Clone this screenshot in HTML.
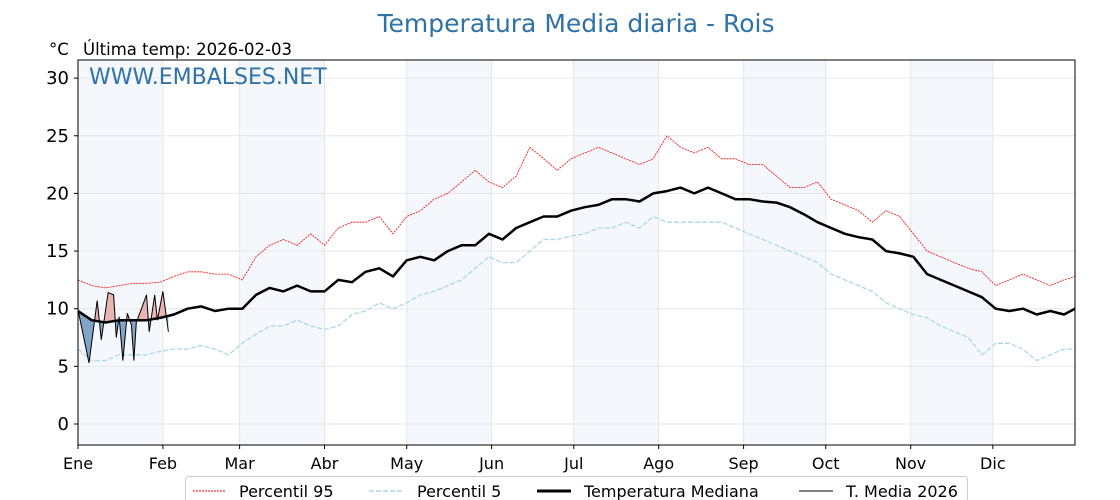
<!DOCTYPE html>
<html><head><meta charset="utf-8"><style>
body{margin:0;background:#fff;}
svg{display:block;font-family:"DejaVu Sans","Liberation Sans",sans-serif;}
</style></head><body>
<svg id="chart" width="1120" height="500">
<text x="576" y="32" text-anchor="middle" font-size="25" fill="#2f72a8">Temperatura Media diaria - Rois</text>
<text x="49" y="55" font-size="16.5" fill="#000">°C</text>
<text x="83" y="55" font-size="16.5" fill="#000">Última temp: 2026-02-03</text>
<g id="plot"></g>
<text x="89" y="84" font-size="22" fill="#2f72a8">WWW.EMBALSES.NET</text>
<g>
<rect x="185.5" y="476.5" width="782" height="30" rx="3" fill="#fff" stroke="#ccc"/>
<line x1="193" y1="491" x2="225" y2="491" stroke="red" stroke-width="1" stroke-dasharray="2,1"/>
<text x="239" y="497" font-size="16">Percentil 95</text>
<line x1="369" y1="491" x2="403" y2="491" stroke="#a8d8e8" stroke-width="1.5" stroke-dasharray="5,2"/>
<text x="417" y="497" font-size="16">Percentil 5</text>
<line x1="537" y1="491" x2="571" y2="491" stroke="#000" stroke-width="3"/>
<text x="584" y="497" font-size="16">Temperatura Mediana</text>
<line x1="799" y1="491" x2="833" y2="491" stroke="#000" stroke-width="1"/>
<text x="846" y="497" font-size="16">T. Media 2026</text>
</g>
</svg>
<script>
const dayIdx=[0,5,10,15,20,25,30,35,40,45,50,55,60,65,70,75,80,85,90,95,100,105,110,115,120,125,130,135,140,145,150,155,160,165,170,175,180,185,190,195,200,205,210,215,220,225,230,235,240,245,250,255,260,265,270,275,280,285,290,295,300,305,310,315,320,325,330,335,340,345,350,355,360,364];
const median=[9.8,9,8.8,9,9,9,9.2,9.5,10,10.2,9.8,10,10,11.2,11.8,11.5,12,11.5,11.5,12.5,12.3,13.2,13.5,12.8,14.2,14.5,14.2,15,15.5,15.5,16.5,16,17,17.5,18,18,18.5,18.8,19,19.5,19.5,19.3,20,20.2,20.5,20,20.5,20,19.5,19.5,19.3,19.2,18.8,18.2,17.5,17,16.5,16.2,16,15,14.8,14.5,13,12.5,12,11.5,11,10,9.8,10,9.5,9.8,9.5,10];
const p95=[12.5,12,11.8,12,12.2,12.2,12.3,12.8,13.2,13.2,13,13,12.5,14.5,15.5,16,15.5,16.5,15.5,17,17.5,17.5,18,16.5,18,18.5,19.5,20,21,22,21,20.5,21.5,24,23,22,23,23.5,24,23.5,23,22.5,23,25,24,23.5,24,23,23,22.5,22.5,21.5,20.5,20.5,21,19.5,19,18.5,17.5,18.5,18,16.5,15,14.5,14,13.5,13.2,12,12.5,13,12.5,12,12.5,12.8];
const p5=[6.5,5.5,5.5,6,6,6,6.3,6.5,6.5,6.8,6.5,6,7,7.8,8.5,8.5,9,8.5,8.2,8.5,9.5,9.8,10.5,10,10.5,11.2,11.5,12,12.5,13.5,14.5,14,14,15,16,16,16.3,16.5,17,17,17.5,17,18,17.5,17.5,17.5,17.5,17.5,17,16.5,16,15.5,15,14.5,14,13,12.5,12,11.5,10.5,10,9.5,9.2,8.5,8,7.5,6,7,7,6.5,5.5,6,6.5,6.5];
const days2026=[0,4,7,8.5,11,13,14,15,16.4,18,19.5,20.4,21.3,23,25,26,28,29,31,33];
const temp2026=[9.9,5.3,10.7,7.3,11.4,11.2,7.5,9.3,5.5,9.6,8.6,5.5,8.8,9.9,11.2,8.0,11.2,9.0,11.5,8.0];
const yTicks=[0,5,10,15,20,25,30];
const months=["Ene","Feb","Mar","Abr","May","Jun","Jul","Ago","Sep","Oct","Nov","Dic"];
const monthStart=[0,31,59,90,120,151,181,212,243,273,304,334];

const X0=78,X1=1075,Y0=60,Y1=445;
const xs=d=>X0+d*(997/364);
const ys=v=>424-v*11.53;
const NS="http://www.w3.org/2000/svg";
const plot=document.getElementById('plot');
function mk(tag,attrs,parent){const e=document.createElementNS(NS,tag);for(const k in attrs)e.setAttribute(k,attrs[k]);(parent||plot).appendChild(e);return e;}
const defs=mk('defs',{});
const cp=mk('clipPath',{id:'pc'},defs);mk('rect',{x:X0,y:Y0,width:X1-X0,height:Y1-Y0},cp);
monthStart.forEach((m,i)=>{
  if(i%2===0){const end=i+1<12?monthStart[i+1]:364;
    const r=mk('rect',{x:xs(m),y:Y0,width:xs(end)-xs(m),height:Y1-Y0,fill:'#f4f8fc'});
    
    }
});
yTicks.forEach(t=>{const l=mk('line',{x1:X0,x2:X1,y1:ys(t),y2:ys(t),stroke:'#e6e6e6','stroke-width':1});
  
  
  mk('line',{x1:X0-4,x2:X0,y1:ys(t),y2:ys(t),stroke:'#000'});
  const tx=mk('text',{x:X0-9,y:ys(t)+6,'text-anchor':'end','font-size':18});tx.textContent=t;
  
  });
monthStart.forEach((m,i)=>{const l=mk('line',{x1:xs(m),x2:xs(m),y1:Y0,y2:Y1,stroke:'#e6e6e6'});
  
  
  mk('line',{x1:xs(m),x2:xs(m),y1:Y1,y2:Y1+4,stroke:'#000'});
  const tx=mk('text',{x:xs(m),y:Y1+24,'text-anchor':'middle','font-size':16});tx.textContent=months[i];
  
  });
const pts=(d,v)=>d.map((x,i)=>xs(x).toFixed(1)+','+ys(v[i]).toFixed(1)).join(' ');
const g=mk('g',{'clip-path':'url(#pc)'});
function medAt(d){for(let i=0;i<dayIdx.length-1;i++){if(d<=dayIdx[i+1]){const t=(d-dayIdx[i])/(dayIdx[i+1]-dayIdx[i]);return median[i]+t*(median[i+1]-median[i]);}}return median[median.length-1];}
const medPts=days2026.map(d=>xs(d).toFixed(1)+','+ys(medAt(d)).toFixed(1));
const above=mk('clipPath',{id:'above'},defs);
mk('polygon',{points:medPts.join(' ')+` ${xs(33)},${Y0} ${xs(0)},${Y0}`},above);
const below=mk('clipPath',{id:'below'},defs);
mk('polygon',{points:medPts.join(' ')+` ${xs(33)},${Y1} ${xs(0)},${Y1}`},below);
const fillPoly=pts(days2026,temp2026)+' '+medPts.slice().reverse().join(' ');
const fa=mk('polygon',{points:fillPoly,fill:'#e8a8a8','fill-opacity':0.85,'clip-path':'url(#above)'},g);


const fb=mk('polygon',{points:fillPoly,fill:'#5a8ab8','fill-opacity':0.75,'clip-path':'url(#below)'},g);


const l95=mk('polyline',{points:pts(dayIdx,p95),fill:'none',stroke:'red','stroke-width':0.8,'stroke-dasharray':'2,1'},g);


const l5=mk('polyline',{points:pts(dayIdx,p5),fill:'none',stroke:'#a8d8e8','stroke-width':1.3,'stroke-dasharray':'5,2'},g);


const lm=mk('polyline',{points:pts(dayIdx,median),fill:'none',stroke:'#000','stroke-width':2.5,'stroke-linejoin':'round'},g);


const l26=mk('polyline',{points:pts(days2026,temp2026),fill:'none',stroke:'#000','stroke-width':1},g);


const fr=mk('rect',{x:X0,y:Y0,width:X1-X0,height:Y1-Y0,fill:'none',stroke:'#000','stroke-width':1});


</script>
</body></html>
